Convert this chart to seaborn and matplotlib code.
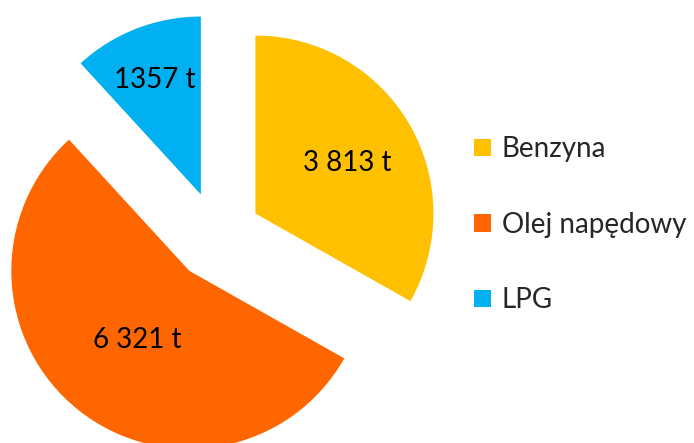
import numpy as np
import matplotlib
matplotlib.use("Agg")
import matplotlib.pyplot as plt
import seaborn as sns

# data
fuels = ["Benzyna", "Olej napędowy", "LPG"]
tonnes = [3813, 6321, 1357]
value_labels = ["3 813 t", "6 321 t", "1357 t"]

colors = ["#FFC000", "#FF6600", "#00B0F0"]
label_dist = [0.60, 0.47, 0.71]   # distance of value label from wedge tip

sns.set_theme(style="white")
plt.rcParams["font.family"] = ["Lato", "DejaVu Sans"]

fig = plt.figure(figsize=(6.94, 4.43), dpi=100)
ax = fig.add_axes([0, 0, 1, 1])

wedges, _ = ax.pie(tonnes, explode=[0.25] * 3, startangle=90,
                   counterclock=False, colors=colors, radius=1.0,
                   wedgeprops=dict(linewidth=0))

for w, txt, d in zip(wedges, value_labels, label_dist):
    mid = np.deg2rad((w.theta1 + w.theta2) / 2)
    cx, cy = w.center
    ax.text(cx + d * np.cos(mid), cy + d * np.sin(mid) - 0.02, txt,
            ha="center", va="center", fontsize=20, color="black")

# pie centre sits at (217, 236) px from top-left, radius 178 px
r = 178.0
ax.set_xlim(-217 / r, (694 - 217) / r)
ax.set_ylim(-(443 - 236) / r, 236 / r)
ax.set_aspect("equal", adjustable="box")
ax.axis("off")

fig.legend(wedges, fuels, loc="upper left",
           bbox_to_anchor=(452 / 694, 1 - 114 / 443),
           frameon=False, fontsize=20, handlelength=0.6, handleheight=0.6,
           handletextpad=0.4, labelspacing=1.78, borderpad=0.3)

fig.savefig("out.png", dpi=100)
